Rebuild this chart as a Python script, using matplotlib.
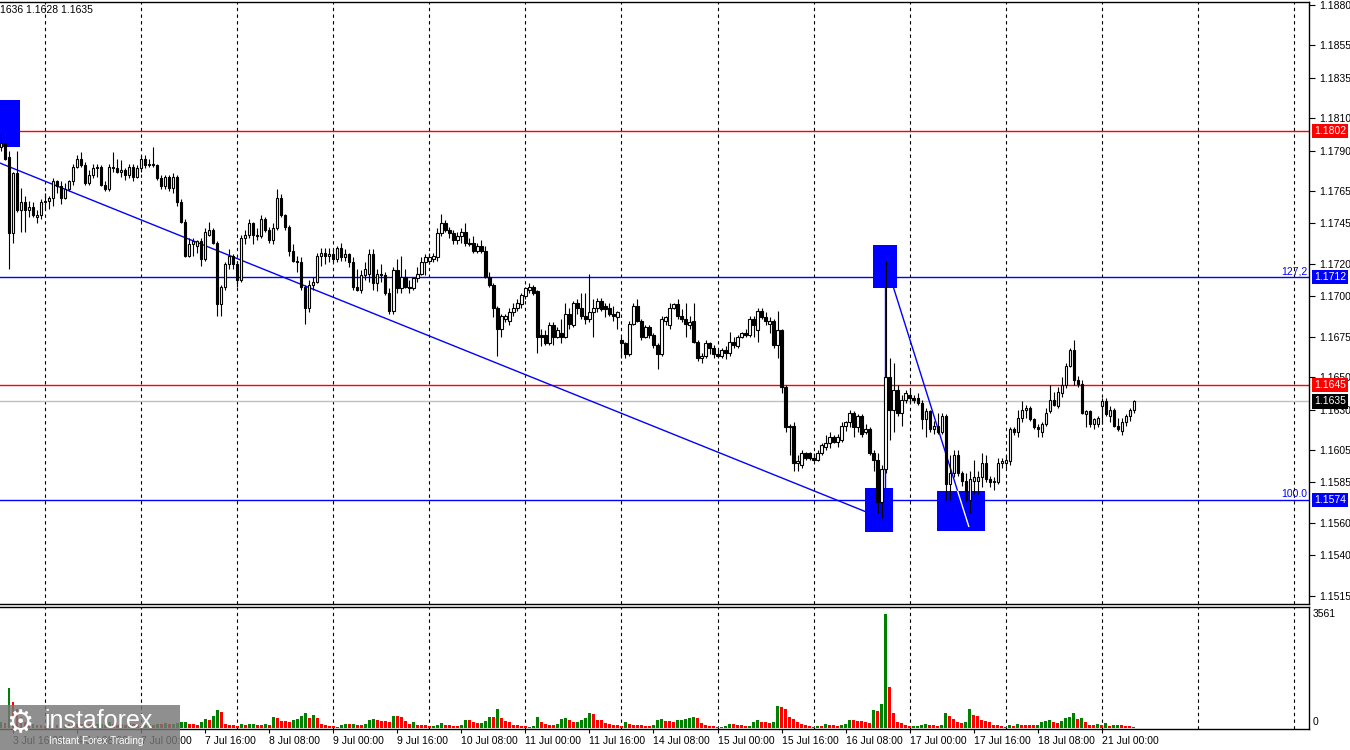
import matplotlib
matplotlib.use("Agg")
import matplotlib.pyplot as plt
import numpy as np
from matplotlib.patches import Rectangle
from matplotlib.transforms import blended_transform_factory

plt.rcParams['font.family'] = ['Liberation Sans', 'DejaVu Sans']

# ---------------- data (prices in pips above 1.1500, H1 bars) ----------------
opens = [292,295,286,239,276,253,258,253,255,249, 250,258,259,261,271,268,261,266,271,280,
 285,281,270,275,279,280,269,266,280,279, 277,278,275,280,274,279,285,281,282,281,
 273,268,274,267,274,258,246,225,232,231, 234,223,238,241,233,195,206,220,225,220,
 210,236,238,245,238,237,248,241,235,242, 261,250,243,228,222,221,206,193,207,209,
 225,227,225,226,223,230,224,226,221,206, 204,213,214,226,208,214,213,202,191,216,
 205,212,206,205,211,214,221,222,223,224, 239,245,241,239,235,237,240,233,233,228,
 231,228,212,207,193,180,186,185,190,193, 195,200,204,206,203,176,176,171,182,175,
 177,175,189,182,196,193,188,186,190,193, 197,194,193,189,187,173,171,164,183,194,
 185,175,181,176,170,164,185,182,193,195, 188,186,182,185,172,162,163,171,168,164,
 163,167,165,172,169,175,177,176,186,179, 191,187,183,185,170,179,144,119,120,97,
 96,103,103,100,99,103,107,109,113,110, 111,120,122,128,119,126,116,118,103,99,
 73,93,150,130,142,128,136,139,137,137, 134,124,129,118,120,116,126,84,91,102,
 91,86,74,86,86,88,97,87,85,85, 97,97,98,118,116,125,130,131,124,119,
 116,121,129,136,132,140,145,157,167,148, 146,127,129,121,121,132,135,126,130,120,
 117,122,126,130]
highs = [301,296,290,277,290,267,262,259,258,253, 260,264,262,273,272,271,270,272,282,287,
 289,283,278,282,282,281,271,282,289,285, 284,279,282,282,281,287,287,285,292,282,
 275,275,275,276,275,260,248,236,236,235, 236,242,246,242,234,207,221,229,226,222,
 238,241,248,246,242,250,249,243,245,266, 263,251,244,232,225,224,207,210,212,227,
 230,230,230,229,231,233,229,227,224,217, 216,221,229,229,217,220,215,205,218,223,
 225,217,210,212,218,224,226,227,227,242, 251,247,243,241,240,242,245,236,237,233,
 235,231,215,208,194,189,189,193,196,198, 202,206,208,207,204,180,179,184,184,181,
 186,196,193,197,198,202,202,214,198,199, 199,196,196,194,191,175,172,185,196,198,
 186,182,182,177,171,188,188,196,196,198, 192,196,188,196,173,165,173,172,170,167,
 168,169,178,175,176,178,180,188,188,193, 193,190,187,186,191,180,145,121,122,102,
 105,104,104,103,105,109,114,116,114,115, 122,123,130,129,127,127,121,119,105,103,
 96,222,162,159,145,139,142,143,139,140, 136,131,130,123,128,128,127,102,105,105,
 92,91,92,99,92,103,102,89,88,100, 100,102,119,119,130,135,133,132,125,121,
 122,131,145,141,144,150,159,168,173,151, 148,130,130,125,126,137,137,132,131,125,
 125,127,131,136]
lows = [290,284,217,233,252,240,240,249,249,245, 248,253,254,256,264,257,260,265,269,279,
 280,269,269,273,274,268,265,265,277,276, 274,272,273,271,273,277,279,280,280,272,
 266,266,265,264,256,245,224,224,225,227, 219,222,237,232,188,188,204,217,217,206,
 209,232,236,232,235,236,240,233,232,241, 249,241,225,221,215,204,183,190,204,208,
 219,220,221,221,221,222,222,218,204,203, 202,210,209,204,203,209,201,189,189,202,
 202,205,202,204,209,213,213,220,221,222, 237,240,236,232,232,233,231,231,227,227,
 227,211,206,187,163,175,184,182,188,191, 193,198,202,201,165,169,170,170,170,174,
 171,174,180,181,189,186,183,184,175,190, 191,187,188,185,180,162,162,163,182,184,
 173,174,174,168,155,163,182,180,192,186, 184,175,180,171,160,159,162,164,162,162,
 162,161,163,168,168,174,175,175,175,172, 186,182,177,168,162,140,116,102,92,92,
 94,99,99,98,98,102,105,106,109,107, 110,117,119,113,116,113,115,102,92,66,
 63,91,111,116,126,120,134,134,134,133, 118,113,116,115,115,115,74,74,88,89,
 83,73,66,78,78,82,85,82,80,84, 94,94,96,114,113,122,125,123,118,113,
 113,120,128,132,131,138,143,156,145,144, 127,119,119,118,119,121,126,122,119,117,
 114,120,123,128]
closes = [295,285,239,276,253,258,253,255,250,250, 258,259,261,271,268,261,266,271,280,285,
 281,270,275,279,280,269,266,280,279,277, 278,275,280,274,279,285,281,282,281,273,
 268,274,267,274,258,246,225,232,234,234, 223,240,241,233,195,206,220,225,220,210,
 236,238,245,238,237,248,241,235,242,261, 250,243,228,222,221,206,193,207,209,225,
 227,225,226,223,230,224,226,221,206,204, 213,217,226,208,214,213,202,191,216,205,
 212,206,205,211,214,221,224,224,225,239, 245,241,239,235,237,240,233,232,228,231,
 228,212,207,193,180,188,188,190,193,196, 201,205,206,202,175,175,171,182,175,179,
 175,189,183,196,193,188,186,190,193,197, 192,192,189,188,190,171,164,183,194,185,
 175,181,176,170,164,186,187,193,195,188, 186,183,184,172,162,163,171,168,164,163,
 167,165,172,170,175,177,176,186,182,191, 187,185,185,170,179,144,119,120,97,98,
 103,100,100,99,103,108,109,113,110,113, 120,122,128,119,126,115,118,103,99,73,
 93,150,130,142,128,136,140,137,136,134, 124,129,118,120,116,126,84,91,102,91,
 86,74,87,88,88,97,87,85,86,97, 98,99,118,116,125,130,131,124,119,118,
 121,128,136,133,141,145,157,167,148,146, 128,129,121,124,125,135,127,130,120,118,
 122,126,130,135]
volumes = [180,150,1260,810,600,350,200,110,130,90, 85,60,80,110,90,100,140,120,160,130,
 110,150,120,90,110,140,100,180,130,90, 120,100,150,120,90,60,90,120,100,140,
 110,150,120,140,170,180,185,115,110,105, 180,270,240,365,550,490,135,85,80,50,
 115,90,110,130,90,85,120,80,345,315, 210,205,200,260,290,365,460,310,405,320,
 115,85,55,50,45,85,115,110,115,85, 80,115,240,270,265,210,205,180,365,360,
 355,210,135,180,105,85,80,50,55,85, 145,85,80,75,50,85,240,235,180,145,
 150,220,335,330,585,300,205,180,85,80, 75,50,45,55,335,180,115,85,80,115,
 270,300,240,180,185,240,300,455,425,240, 235,145,115,85,80,55,180,115,85,80,
 80,75,70,85,240,270,210,205,180,240, 245,270,300,335,300,145,85,55,50,45,
 40,55,115,110,85,80,55,60,180,240, 180,175,145,180,675,645,585,335,270,180,
 115,85,55,25,55,50,115,85,80,55, 85,115,240,235,210,205,180,145,550,520,
 740,3561,1270,455,180,145,85,55,60,70, 85,115,85,80,55,85,455,360,270,180,
 145,180,585,395,360,240,210,180,85,80, 55,25,85,60,110,100,90,85,85,95,
 180,210,240,180,145,210,300,335,455,270, 300,180,85,80,115,85,145,55,85,90,
 80,55,50,45]

price_ticks = [1.1880, 1.1855, 1.1835, 1.1810, 1.1790, 1.1765, 1.1745, 1.1720, 1.1700,
               1.1675, 1.1650, 1.1630, 1.1605, 1.1585, 1.1560, 1.1540, 1.1515]
time_label_bars = [3, 19, 35, 51, 67, 83, 99, 115, 131, 147, 163, 179, 195, 211, 227, 243, 259, 275]
time_labels = ["3 Jul 16:00", "4 Jul 08:00", "7 Jul 00:00", "7 Jul 16:00", "8 Jul 08:00",
               "9 Jul 00:00", "9 Jul 16:00", "10 Jul 08:00", "11 Jul 00:00", "11 Jul 16:00",
               "14 Jul 08:00", "15 Jul 00:00", "15 Jul 16:00", "16 Jul 08:00", "17 Jul 00:00",
               "17 Jul 16:00", "18 Jul 08:00", "21 Jul 00:00"]
level_prices = [1.1802, 1.1712, 1.1645, 1.1574]
level_colors = ['#ff0000', '#0000ff', '#ff0000', '#0000ff']
last_price = 1.1635
vol_max = 3561
header = "1636 1.1628 1.1635"

# ---------------- figure ----------------
W, H = 1350, 750
fig = plt.figure(figsize=(13.5, 7.5), dpi=100, facecolor='white')

def frac(l, t, r, b):
    return [l / W, 1 - b / H, (r - l) / W, (b - t) / H]

ax = fig.add_axes(frac(0, 2, 1309, 604))
axv = fig.add_axes(frac(0, 607, 1309, 729))

to_price = lambda a: 1.15 + np.asarray(a, dtype=float) / 10000.0
O, Hi, Lo, C = map(to_price, (opens, highs, lows, closes))
x = np.arange(len(closes))

XMIN, XMAX = -0.25, 326.75
for a in (ax, axv):
    a.set_xlim(XMIN, XMAX)
    a.spines['left'].set_visible(False)
    for s in ('top', 'right', 'bottom'):
        a.spines[s].set_color('black')
        a.spines[s].set_linewidth(1.0)
    for g in range(11, 327, 24):
        a.axvline(g, color='black', lw=0.8, ls=(0, (3, 3)), zorder=1)

ax.set_ylim(1.15098, 1.188185)

# candles
up = C >= O
body_bot = np.minimum(O, C)
body_h = np.maximum(np.abs(C - O), 0.00003)
ax.vlines(x, Lo, Hi, colors='black', lw=0.8, zorder=4)
ax.bar(x, body_h, bottom=body_bot, width=0.6,
       color=['white' if u else 'black' for u in up],
       edgecolor='black', linewidth=0.8, zorder=5)

# horizontal levels
for p, c in zip(level_prices, level_colors):
    ax.axhline(p, color=c, lw=1.0, zorder=2)
ax.axhline(last_price, color='#c0c0c0', lw=1.0, zorder=2)

# blue boxes
for (x0, x1, y0, y1) in [(-0.25, 4.75, 1.17922, 1.18213), (217.75, 223.75, 1.17050, 1.17316),
                         (215.75, 222.75, 1.15541, 1.15813), (233.75, 245.75, 1.15547, 1.15794)]:
    ax.add_patch(Rectangle((x0, y0), x1 - x0, y1 - y0, fc='#0000ff', ec='none', zorder=3))

# trend lines
ax.plot([-0.25, 215.75], [1.17823, 1.15671], color='#0000ff', lw=1.0, zorder=3.5)
ax.plot([220.75, 220.75], [1.17050, 1.15813], color='#0000ff', lw=1.0, zorder=3.5)
ax.plot([223.0, 239.0], [1.17050, 1.15794], color='#0000ff', lw=1.0, zorder=3.5)
ax.plot([239.0, 241.75], [1.15794, 1.15578], color='white', lw=1.0, zorder=3.5)

ax.text(326.4, 1.1712 + 0.00004, '127,2', color='#0000ff', fontsize=7.5, ha='right', va='bottom', zorder=6)
ax.text(326.4, 1.1574 + 0.00004, '100.0', color='#0000ff', fontsize=7.5, ha='right', va='bottom', zorder=6)

# right price axis
ax.yaxis.tick_right()
ax.set_yticks(price_ticks)
ax.set_yticklabels([f'{v:.4f}' for v in price_ticks])
ax.tick_params(axis='y', direction='out', length=4, width=0.8, labelsize=7.5, pad=3)
ax.set_xticks([])

trans = blended_transform_factory(ax.transAxes, ax.transData)
for p, c in list(zip(level_prices, level_colors)) + [(last_price, '#000000')]:
    ax.text(1 + 5 / 1309, p, f'{p:.4f}', transform=trans, color='white', fontsize=7.5,
            ha='left', va='center', zorder=10, clip_on=False,
            bbox=dict(boxstyle='square,pad=0.2', fc=c, ec='none'))

# volumes
vcol = ['#008000' if (i == 0 or volumes[i] > volumes[i - 1]) else '#ff0000' for i in range(len(volumes))]
axv.bar(x, volumes, width=0.72, color=vcol, linewidth=0, zorder=2)
axv.set_ylim(-31, 3780)
axv.set_yticks([])
vtrans = blended_transform_factory(axv.transAxes, axv.transData)
axv.text(1 + 4 / 1309, vol_max, str(vol_max), transform=vtrans, fontsize=7.5, ha='left', va='center', clip_on=False)
axv.text(1 + 4 / 1309, 190, '0', transform=vtrans, fontsize=7.5, ha='left', va='center', clip_on=False)
axv.set_xticks(time_label_bars)
axv.set_xticklabels(time_labels, ha='left')
axv.tick_params(axis='x', direction='out', length=3, width=0.8, labelsize=7.5, pad=2)

# header
fig.text(0, 1 - 10 / H, header, fontsize=7.5, ha='left', va='center')

# watermark logo
fig.patches.append(Rectangle((0, 0), 180 / W, 45 / H, transform=fig.transFigure,
                             fc='#777777', ec='none', alpha=0.82, zorder=20))
fig.text(6 / W, 1 - 724 / H, '\u2699', color='white', fontsize=22, family='DejaVu Sans',
         ha='left', va='center', zorder=21)
fig.text(44 / W, 1 - 721 / H, 'instaforex', color='white', fontsize=18, ha='left', va='center', zorder=21)
fig.text(49 / W, 1 - 741 / H, 'Instant Forex Trading', color='white', fontsize=7.2, ha='left', va='center', zorder=21)

fig.savefig('out.png', dpi=100, facecolor='white')
